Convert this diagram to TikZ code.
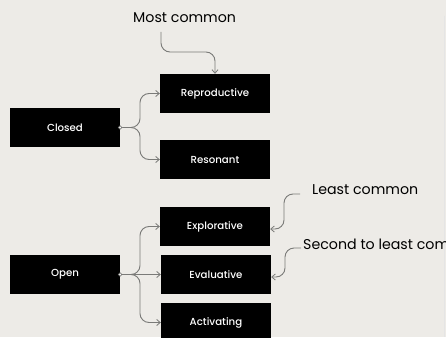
\documentclass[tikz,border=0pt]{standalone}
\usepackage{fontspec}
\setmainfont{Poppins}
\newfontfamily\boxfont{Poppins}[UprightFont={* Medium}]
\usetikzlibrary{arrows.meta}
\definecolor{paper}{HTML}{EDEBE7}
\definecolor{wire}{HTML}{7A7A78}
\tikzset{
  box/.style={fill=black, text=white, minimum width=110pt, minimum height=39pt,
              inner sep=0pt, font=\boxfont\fontsize{10.2}{12}\selectfont},
  note/.style={anchor=west, inner sep=0pt, text=black, font=\fontsize{14.2}{17}\selectfont},
  link/.style={draw=wire, line width=0.9pt, rounded corners=9pt,
               -{Straight Barb[length=3.5pt,width=6pt,line width=0.8pt]}},
  pin/.style={circle, draw=wire, fill=white, line width=0.7pt, inner sep=0pt, minimum size=3.5pt},
}
\begin{document}
\begin{tikzpicture}[x=1pt, y=-1pt]
  \fill[paper] (0,0) rectangle (446,337);
  \useasboundingbox (0,0) rectangle (446,337);
  \clip (0,0) rectangle (446,337);
  \draw[black!10, line width=0.6pt] (444.5,16) -- (444.5,337);

  % question categories
  \node[box] (closed) at (65,127.5) {Closed};
  \node[box] (open)   at (65,274.5) {Open};

  % question types
  \node[box] (repro)  at (215,93.5)  {Reproductive};
  \node[box] (reson)  at (215,159.5) {Resonant};
  \node[box] (explo)  at (215,226.5) {Explorative};
  \node[box] (evalu)  at (216,274.5) {Evaluative};
  \node[box] (activ)  at (216,322.5) {Activating};

  % frequency notes
  \node[note] (most)   at (133,18)  {Most common};
  \node[note] (least)  at (312,190) {Least common};
  \node[note] (second) at (303,244) {Second to least common};

  % branch points
  \node[pin] (cpin) at (closed.east) {};
  \node[pin] (opin) at (open.east) {};

  % closed branches
  \draw[link] (cpin) -| (140,93.5) -- (repro.west);
  \draw[link] (cpin) -| (140,159.5) -- (reson.west);

  % open branches
  \draw[link] (opin) -| (140,226.5) -- (explo.west);
  \draw[link] (opin) -- (evalu.west);
  \draw[link] (opin) -| (140,322.5) -- (activ.west);

  % note pointers
  \coordinate (mostfoot) at (161,32);
  \draw[link] (mostfoot) |- (215,52) -- (repro.north);
  \coordinate (leastfoot) at (300,194);
  \draw[link] (leastfoot) -| (284,229) -- (explo.east |- 0,229);
  \coordinate (secondfoot) at (301,248);
  \draw[link] (secondfoot) -| (285,277) -- (evalu.east |- 0,277);
\end{tikzpicture}
\end{document}
